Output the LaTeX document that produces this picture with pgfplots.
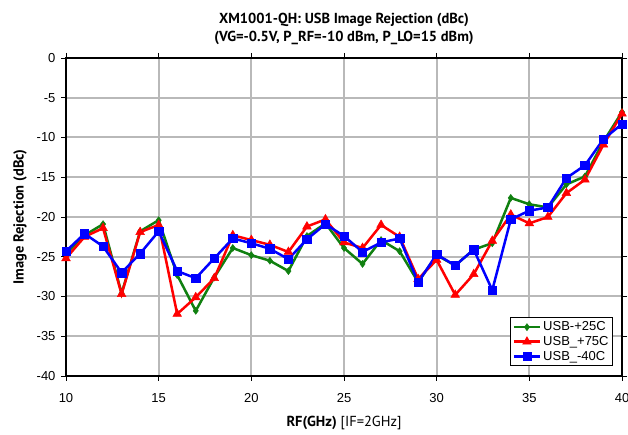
\documentclass[border=0pt]{standalone}
\usepackage{pgfplots}
\pgfplotsset{compat=1.18}
\usepackage{fontspec}
\setmainfont{Liberation Sans}
\newfontfamily\titlefont{PT Sans}
\definecolor{cgreen}{RGB}{16,128,16}
\definecolor{cred}{RGB}{255,0,0}
\definecolor{cblue}{RGB}{0,0,255}
\definecolor{cgrid}{RGB}{185,185,185}
\begin{document}
\begin{tikzpicture}[x=1pt,y=1pt]
\useasboundingbox (0,0) rectangle (628,435);
\begin{axis}[
  at={(66pt,59pt)}, anchor=south west,
  scale only axis, width=556pt, height=318pt,
  xmin=10, xmax=40, ymin=-40, ymax=0,
  xtick={10,15,...,40}, ytick={-40,-35,...,0},
  grid=major, major grid style={cgrid, line width=2pt},
  axis line style={black, line width=1.2pt},
  tick align=outside, major tick length=5pt,
  tick style={black, line width=0.8pt},
  ticklabel style={font=\fontsize{13}{14}\selectfont},
  /pgf/number format/assume math mode=true,
  x tick label style={yshift=-9pt},
  y tick label style={xshift=-2pt},
  title style={font=\titlefont\bfseries\fontsize{14.5}{18}\selectfont, align=center, yshift=4pt},
  title={XM1001-QH: USB Image Rejection (dBc)\\(VG=-0.5V, P\_RF=-10 dBm, P\_LO=15 dBm)},
  xlabel={\textbf{RF(GHz)} [IF=2GHz]},
  xlabel style={font=\titlefont\fontsize{14.5}{16}\selectfont, yshift=-7pt},
  ylabel={Image Rejection (dBc)},
  ylabel style={font=\titlefont\bfseries\fontsize{14.5}{16}\selectfont, yshift=3pt},
  legend style={at={(1,0)}, anchor=south east, xshift=-9pt, yshift=10pt,
    draw=black, line width=0.8pt, font=\fontsize{13}{15}\selectfont,
    row sep=0pt, inner xsep=2pt, inner ysep=2pt, cells={anchor=west}},
  legend image code/.code={\draw[mark repeat=2,mark phase=2,#1] plot coordinates {(0pt,0pt) (13pt,0pt) (26pt,0pt)};},
]
\addplot[cgreen, line width=2.5pt, mark=diamond*, mark size=3.5pt, mark options={solid, line width=0.5pt}] coordinates {
(10,-24.6)(11,-22.3)(12,-20.9)(13,-29.6)(14,-21.8)(15,-20.4)(16,-27.3)(17,-31.8)(18,-27.6)(19,-23.9)(20,-24.8)
(21,-25.5)(22,-26.8)(23,-22.4)(24,-20.8)(25,-23.9)(26,-25.9)(27,-22.9)(28,-24.3)(29,-28.2)(30,-24.8)
(31,-26.1)(32,-24.1)(33,-23.3)(34,-17.6)(35,-18.4)(36,-18.8)(37,-15.9)(38,-14.9)(39,-10.5)(40,-6.8)};
\addlegendentry{USB-+25C}
\addplot[cred, line width=2.5pt, mark=triangle*, mark size=5pt, mark options={solid, line width=0.5pt}] coordinates {
(10,-25.2)(11,-22.5)(12,-21.4)(13,-29.7)(14,-21.9)(15,-21.0)(16,-32.2)(17,-30.1)(18,-27.7)(19,-22.3)(20,-22.9)
(21,-23.5)(22,-24.4)(23,-21.2)(24,-20.3)(25,-23.2)(26,-23.9)(27,-21.0)(28,-22.5)(29,-27.8)(30,-25.4)
(31,-29.8)(32,-27.2)(33,-23.0)(34,-19.7)(35,-20.8)(36,-20.0)(37,-17.0)(38,-15.3)(39,-10.9)(40,-7.0)};
\addlegendentry{USB\_+75C}
\addplot[cblue, line width=2.5pt, mark=square*, mark size=4.2pt, mark options={solid, line width=0.5pt}] coordinates {
(10,-24.3)(11,-22.1)(12,-23.7)(13,-27.0)(14,-24.6)(15,-21.8)(16,-26.8)(17,-27.7)(18,-25.2)(19,-22.7)(20,-23.3)
(21,-24.0)(22,-25.3)(23,-22.8)(24,-20.9)(25,-22.4)(26,-24.4)(27,-23.2)(28,-22.7)(29,-28.2)(30,-24.7)
(31,-26.1)(32,-24.1)(33,-29.2)(34,-20.3)(35,-19.2)(36,-18.8)(37,-15.1)(38,-13.5)(39,-10.2)(40,-8.3)};
\addlegendentry{USB\_-40C}
\end{axis}
\end{tikzpicture}
\end{document}
